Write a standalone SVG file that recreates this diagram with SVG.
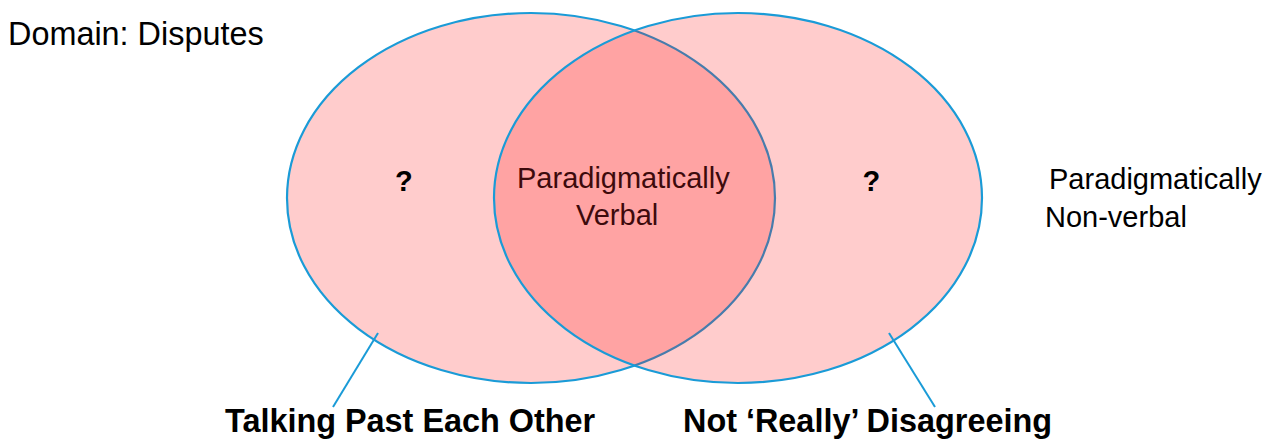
<svg xmlns="http://www.w3.org/2000/svg" width="1276" height="439" viewBox="0 0 1276 439">
<style>
.set{fill:#ff0000;fill-opacity:0.2;stroke:#1a9bd7;stroke-width:2.2}
.big{font-family:"Liberation Sans",Arial,sans-serif;font-size:32.4px;fill:#000}
.mid{font-family:"Liberation Sans",Arial,sans-serif;font-size:29px;fill:#000}
.inner{fill:#3d0a0c}
.b{font-weight:bold}
.leader{stroke:#1a9bd7;stroke-width:2;fill:none}
</style>
<rect width="1276" height="439" fill="#fff"/>
<text class="big" x="8" y="45">Domain: Disputes</text>
<g id="set-left">
<ellipse class="set" cx="531" cy="198" rx="244" ry="185"/>
<text class="mid b" x="395" y="191">?</text>
</g>
<g id="set-right">
<ellipse class="set" cx="738" cy="198" rx="244" ry="185"/>
<text class="mid b" x="862.5" y="191">?</text>
</g>
<g id="overlap">
<text class="mid inner" x="517" y="188">Paradigmatically</text>
<text class="mid inner" x="576" y="225">Verbal</text>
</g>
<g id="outside">
<text class="mid" x="1049" y="189">Paradigmatically</text>
<text class="mid" x="1045" y="227">Non-verbal</text>
</g>
<g id="connectors">
<line class="leader" x1="378" y1="333" x2="333" y2="407"/>
<line class="leader" x1="889" y1="333" x2="935" y2="407"/>
</g>
<g id="label-left"><text class="big b" x="225" y="432">Talking Past Each Other</text></g>
<g id="label-right"><text class="big b" x="683" y="432">Not ‘Really’ Disagreeing</text></g>
</svg>
